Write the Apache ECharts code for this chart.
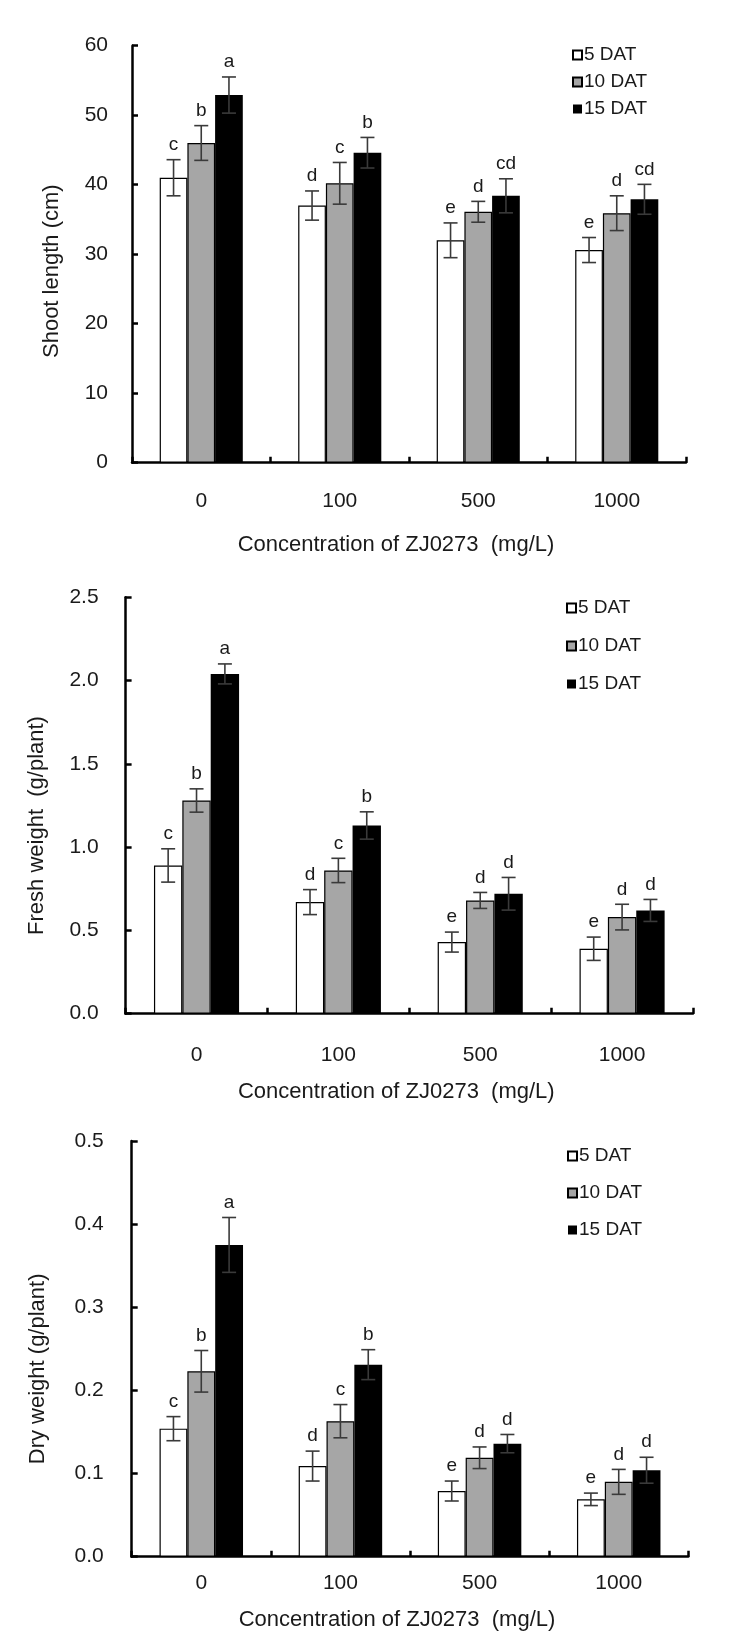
<!DOCTYPE html>
<html><head><meta charset="utf-8">
<script src="https://cdn.jsdelivr.net/npm/echarts@6/dist/echarts.min.js"></script>
<style>html,body{margin:0;padding:0;background:#fff}#c{width:735px;height:1651px}</style>
</head><body><div id="c"></div>
<script>
// ---- data ----
const categories = ['0', '100', '500', '1000'];
const seriesNames = ['5 DAT', '10 DAT', '15 DAT'];
const xTitle = 'Concentration of ZJ0273  (mg/L)';

const shoot5 = [41.0, 37.0, 32.0, 30.6];
const shoot10 = [46.0, 40.2, 36.1, 35.9];
const shoot15 = [52.9, 44.6, 38.4, 37.9];
const shootErr5 = [2.6, 2.1, 2.5, 1.8];
const shootErr10 = [2.5, 3.0, 1.5, 2.5];
const shootErr15 = [2.6, 2.2, 2.45, 2.15];
const shootLet5 = ['c', 'd', 'e', 'e'];
const shootLet10 = ['b', 'c', 'd', 'd'];
const shootLet15 = ['a', 'b', 'cd', 'cd'];

const fresh5 = [0.89, 0.67, 0.43, 0.39];
const fresh10 = [1.28, 0.86, 0.68, 0.58];
const fresh15 = [2.04, 1.13, 0.72, 0.62];
const freshErr5 = [0.10, 0.075, 0.06, 0.07];
const freshErr10 = [0.07, 0.073, 0.048, 0.077];
const freshErr15 = [0.06, 0.082, 0.098, 0.066];
const freshLet5 = ['c', 'd', 'e', 'e'];
const freshLet10 = ['b', 'c', 'd', 'd'];
const freshLet15 = ['a', 'b', 'd', 'd'];

const dry5 = [0.154, 0.109, 0.079, 0.069];
const dry10 = [0.223, 0.163, 0.119, 0.090];
const dry15 = [0.375, 0.231, 0.136, 0.104];
const dryErr5 = [0.0145, 0.018, 0.012, 0.0075];
const dryErr10 = [0.025, 0.020, 0.013, 0.015];
const dryErr15 = [0.033, 0.018, 0.011, 0.0156];
const dryLet5 = ['c', 'd', 'e', 'e'];
const dryLet10 = ['b', 'c', 'd', 'd'];
const dryLet15 = ['a', 'b', 'd', 'd'];

const yTitles = ['Shoot length (cm)', 'Fresh weight  (g/plant)', 'Dry weight (g/plant)'];
const yMax = [60, 2.5, 0.5];
const yInterval = [10, 0.5, 0.1];
const yDecimals = [0, 1, 1];

// ---- styling / layout ----
const FONT = '"Liberation Sans", Arial, sans-serif';
const TXT = '#1a1a1a';
const fills = ['#ffffff', '#a6a6a6', '#000000'];
const panels = [
  { vals: [shoot5, shoot10, shoot15], errs: [shootErr5, shootErr10, shootErr15], lets: [shootLet5, shootLet10, shootLet15],
    grid: { left: 132, top: 45.7, width: 554, height: 417 }, legend: { left: 572, top: 45, gap: 7 },
    yNameGap: 69, yNamePad: 34, xNameGap: 71, xLabelMargin: 28, yLabelMargin: 24, xNamePad: 26 },
  { vals: [fresh5, fresh10, fresh15], errs: [freshErr5, freshErr10, freshErr15], lets: [freshLet5, freshLet10, freshLet15],
    grid: { left: 125.6, top: 597.3, width: 567.4, height: 416.4 }, legend: { left: 566, top: 598, gap: 18 },
    yNameGap: 78, yNamePad: 40, xNameGap: 67, xLabelMargin: 31, yLabelMargin: 27, xNamePad: 26 },
  { vals: [dry5, dry10, dry15], errs: [dryErr5, dryErr10, dryErr15], lets: [dryLet5, dryLet10, dryLet15],
    grid: { left: 131.7, top: 1141, width: 556.6, height: 415.7 }, legend: { left: 567, top: 1146, gap: 17 },
    yNameGap: 83, yNamePad: 40, xNameGap: 52, xLabelMargin: 16, yLabelMargin: 28, xNamePad: 26 }
];

const grids = [], xAxes = [], yAxes = [], legends = [], series = [];
panels.forEach((p, k) => {
  grids.push(Object.assign({ containLabel: false, outerBoundsMode: 'none' }, p.grid));
  xAxes.push({
    type: 'category', gridIndex: k, data: categories,
    name: xTitle, nameLocation: 'middle', nameGap: p.xNameGap,
    nameTextStyle: { fontFamily: FONT, fontSize: 22, color: TXT, padding: [0, p.xNamePad, 0, 0] },
    axisLine: { show: true, lineStyle: { color: '#000', width: 2.5 } },
    axisTick: { show: true, inside: true, length: 6, lineStyle: { color: '#000', width: 2.5 } },
    axisLabel: { fontFamily: FONT, fontSize: 21, color: TXT, margin: p.xLabelMargin },
    splitLine: { show: false }
  });
  yAxes.push({
    type: 'value', gridIndex: k, min: 0, max: yMax[k], interval: yInterval[k],
    name: yTitles[k], nameLocation: 'middle', nameGap: p.yNameGap, nameRotate: 90,
    nameTextStyle: { fontFamily: FONT, fontSize: 22, color: TXT, padding: [0, p.yNamePad, 0, 0] },
    axisLine: { show: true, lineStyle: { color: '#000', width: 2.5 } },
    axisTick: { show: true, inside: true, length: 6, lineStyle: { color: '#000', width: 2.5 } },
    axisLabel: { fontFamily: FONT, fontSize: 21, color: TXT, margin: p.yLabelMargin,
      formatter: v => v.toFixed(yDecimals[k]) },
    splitLine: { show: false }
  });
  const names = seriesNames.map(n => n);
  legends.push({
    orient: 'vertical', left: p.legend.left, top: p.legend.top, itemGap: p.legend.gap,
    itemWidth: 9, itemHeight: 9, icon: 'rect', padding: 0,
    textStyle: { fontFamily: FONT, fontSize: 19, color: TXT, lineHeight: 20, padding: [0, 0, 0, -3] },
    data: names, selectedMode: false
  });
  for (let s = 0; s < 3; s++) {
    series.push({
      type: 'bar', name: seriesNames[s], xAxisIndex: k, yAxisIndex: k,
      data: p.vals[s], barGap: '0%', barCategoryGap: '40%',
      itemStyle: { color: fills[s], borderColor: '#000', borderWidth: s === 2 ? 0 : 1.2 },
      emphasis: { disabled: true }, animation: false, silent: true
    });
  }
  for (let s = 0; s < 3; s++) {
    const errs = p.errs[s], lets = p.lets[s], sIdx = s;
    series.push({
      type: 'custom', xAxisIndex: k, yAxisIndex: k, z: 5, animation: false, silent: true,
      data: p.vals[s].map((v, i) => [i, v, errs[i]]),
      encode: { x: 0, y: 1 },
      renderItem: (params, api) => {
        const ci = api.value(0), v = api.value(1), e = api.value(2);
        const band = api.size([1, 0])[0];
        const bw = band * 0.6 / 3;
        const off = (sIdx - 1) * bw;
        const top = api.coord([ci, v + e]);
        const bot = api.coord([ci, v - e]);
        const x = top[0] + off;
        const cap = 7;
        const st = { stroke: '#3a3a3a', lineWidth: 1.6 };
        return { type: 'group', children: [
          { type: 'line', shape: { x1: x, y1: top[1], x2: x, y2: bot[1] }, style: st },
          { type: 'line', shape: { x1: x - cap, y1: top[1], x2: x + cap, y2: top[1] }, style: st },
          { type: 'line', shape: { x1: x - cap, y1: bot[1], x2: x + cap, y2: bot[1] }, style: st },
          { type: 'text', x: x, y: top[1] - 15, style: { text: lets[params.dataIndex], fontFamily: FONT,
              fontSize: 19, fill: TXT, align: 'center', verticalAlign: 'middle' } }
        ] };
      }
    });
  }
});

const chart = echarts.init(document.getElementById('c'), null, { renderer: 'canvas' });
chart.setOption({
  backgroundColor: '#ffffff', animation: false,
  grid: grids, xAxis: xAxes, yAxis: yAxes, legend: legends, series: series, tooltip: { show: false }
});
</script></body></html>
